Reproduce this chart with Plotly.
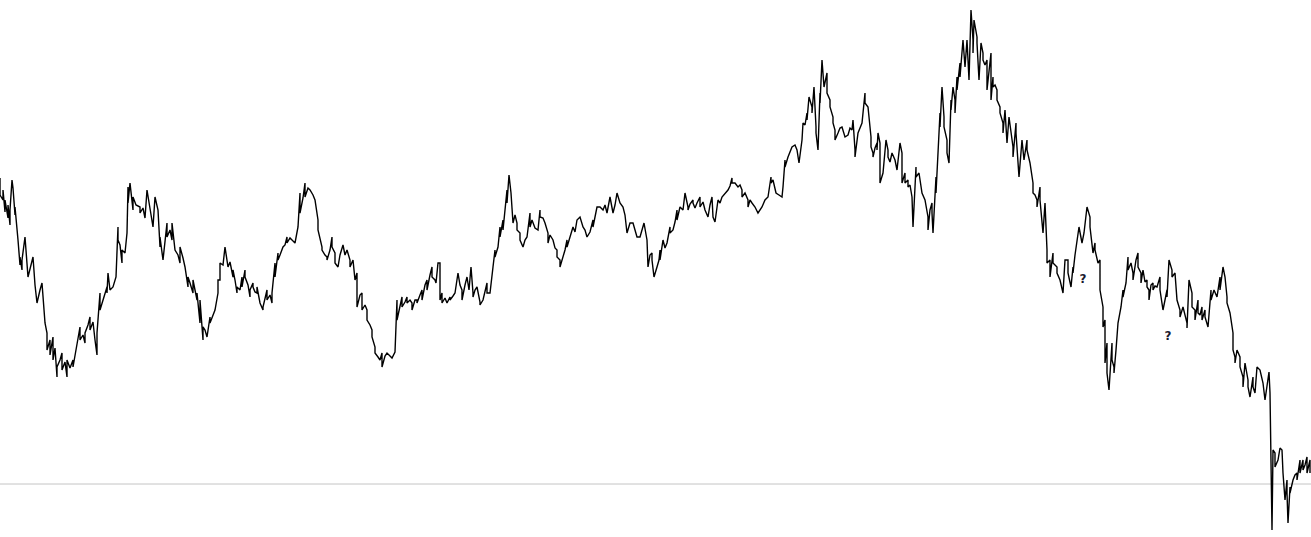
import plotly.graph_objects as go

# (time index, price) samples
seg1 = [(0,822),(0,805),(3,800),(3,810),(5,788),(5,800),(8,782),(8,795),(10,775),(10,790),(12,820),(13,812),(15,785),(15,793),(18,760),(20,735),(20,743),(22,730),(22,740),(25,763),(27,738),(28,723),(31,735),(33,743),(35,715),(37,697),(40,710),(42,717),(45,677),(47,667),(47,650),(50,660),(50,645),(53,663),(53,640),(55,652),(57,623),(57,633),(60,640),(62,647),(62,630),(65,638),(67,623),(67,640),(70,632),(73,640),(73,633),(76,650),(80,673),(80,660),(83,665),(85,657),(85,667),(88,675),(90,683),(90,670),(93,678),(95,660),(97,645),(97,667),(100,707),(100,690),(103,700),(107,713),(107,707),(108,727),(110,710),(113,713),(116,723),(118,773),(118,760),(120,755),(122,737),(122,750),(125,747),(127,767),(128,813),(128,797),(130,817),(133,790),(133,803),(136,795),(140,793),(140,787),(143,792),(145,782),(147,810),(150,790),(153,773),(155,803),(158,790),(160,753),(160,763),(163,740),(165,760),(167,777),(167,763),(170,770),(172,760),(172,777),(175,750),(178,745),(180,737),(180,753),(183,742),(185,733),(188,713),(188,723),(190,717),(193,707),(193,720),(197,700),(197,707),(200,677),(200,700),(203,660),(203,673),(205,670),(207,663),(210,683),(210,677),(213,685),(215,690),(218,707),(218,720)]
seg2 = [(220,720),(220,737),(223,735),(225,753),(228,733),(230,738),(233,723),(233,730),(235,720),(237,707),(237,713),(240,710),(242,723),(242,713),(245,730),(245,723),(248,715),(250,703),(250,710),(253,717),(253,713),(255,708),(257,707),(257,713),(260,697),(263,690),(263,693),(265,702),(267,710),(267,700),(270,705),(272,697),(272,707),(275,737),(275,723),(278,747),(278,740),(280,745),(283,753),(285,755),(287,763),(287,757),(290,762),(292,760),(295,757),(298,773),(300,807),(300,787),(303,802),(305,817),(305,803),(308,812),(310,810),(313,805),(315,800),(318,780),(318,770),(322,753),(322,750),(325,745),(327,743),(327,740),(330,750),(332,763),(332,753),(335,747),(335,737),(338,733),(340,745),(343,755),(345,745),(347,750),(350,740),(350,733),(353,740),(355,720),(357,727),(357,693),(360,705),(362,707),(362,690),(365,695),(367,690),(367,680),(370,675),(372,670),(372,663),(375,653),(375,647),(378,643),(380,640),(382,647),(382,633),(385,644),(387,647),(390,644),(392,642),(395,648),(397,700),(397,680),(400,695),(402,703),(402,693),(405,698),(407,703),(407,697),(410,700),(412,697),(412,690),(415,700),(417,700),(417,697),(420,705),(422,710),(422,700),(425,715),(427,720),(427,710),(430,725),(432,733),(432,723),(435,720),(436,717),(438,737)]
seg3 = [(440,737),(440,700),(442,707),(442,697),(445,702),(447,697),(450,703),(450,700),(453,704),(455,707),(458,727),(460,715),(462,710),(462,700),(465,715),(467,723),(469,710),(471,733),(473,707),(473,703),(475,710),(477,713),(480,698),(480,695),(483,700),(485,710),(487,717),(487,707),(490,707),(493,733),(495,750),(495,743),(498,753),(500,773),(500,763),(503,780),(503,770),(505,790),(507,810),(507,797),(509,825),(511,807),(513,783),(513,777),(515,785),(517,777),(517,770),(520,767),(520,760),(523,753),(525,760),(527,763),(530,787),(530,773),(532,780),(535,772),(538,770),(540,790),(540,783),(543,782),(545,777),(548,767),(548,757),(550,765),(553,760),(555,752),(557,750),(557,743),(560,740),(560,733),(563,743),(565,750),(567,760),(567,753),(570,763),(573,773),(575,768),(577,780),(580,783),(583,773),(585,770),(587,763),(590,768),(593,780),(593,773),(595,785),(597,793),(600,793),(603,790),(605,795),(607,787),(610,803),(613,787),(615,795),(617,807),(620,797),(623,793),(625,785),(627,767),(630,777),(633,777),(635,770),(637,763),(640,763),(642,770),(644,777),(647,760),(648,733),(650,745),(652,747),(652,740),(654,723),(657,733),(659,740)]
seg4 = [(660,750),(660,740),(663,760),(665,752),(667,757),(670,773),(670,767),(673,770),(675,778),(677,790),(677,780),(680,793),(683,790),(685,807),(688,793),(688,790),(690,796),(693,800),(693,797),(695,792),(697,797),(700,803),(700,793),(703,798),(705,790),(708,783),(710,795),(712,803),(713,783),(715,778),(718,800),(720,797),(722,803),(725,807),(728,810),(730,814),(732,822),(732,817),(735,817),(738,813),(740,815),(742,810),(742,803),(745,807),(748,800),(748,793),(750,800),(752,797),(755,793),(758,787),(760,790),(762,793),(765,800),(768,803),(771,823),(771,817),(773,820),(776,807),(779,805),(782,803),(783,813),(785,840),(785,833),(788,843),(790,848),(792,853),(795,855),(797,850),(799,837),(802,860),(803,877),(805,875),(807,887),(807,880),(809,903),(812,893),(812,887),(814,913),(816,873),(816,867),(818,850),(820,907),(820,897),(822,940),(824,913),(827,927),(827,907),(830,900),(830,893),(833,883),(833,877),(835,870),(835,860),(838,867),(840,872),(842,873),(845,863),(848,865),(850,872),(852,870),(853,880),(855,850),(855,843),(858,867),(860,872),(862,877),(865,907),(865,897),(868,893),(871,863),(871,853),(873,847),(873,843),(875,852),(877,857),(877,850),(878,867)]
seg5 = [(880,857),(880,817),(883,827),(886,860),(888,850),(888,843),(890,838),(892,847),(895,840),(897,830),(900,857),(902,847),(902,817),(905,827),(905,817),(908,820),(908,813),(910,815),(912,803),(913,773),(916,833),(916,823),(919,827),(922,807),(925,800),(928,783),(928,770),(930,790),(932,797),(932,787),(933,767),(936,823),(936,807),(938,853),(938,840),(940,887),(940,873),(942,913),(944,883),(944,873),(947,860),(947,847),(949,837),(951,900),(951,890),(953,913),(955,900),(955,887),(957,923),(957,910),(960,937),(960,923),(963,960),(965,940),(965,933),(967,960),(969,920),(971,990),(973,960),(973,947),(974,980),(977,963),(977,957),(979,920),(981,957),(983,947),(983,940),(985,935),(987,940),(987,910),(989,930),(991,947),(991,900),(993,923),(993,913),(995,915),(997,910),(997,900),(1000,893),(1000,887),(1003,877),(1003,867),(1005,890),(1007,857),(1009,883),(1011,865),(1013,853),(1013,843),(1016,877),(1016,867),(1019,823),(1022,860),(1024,840),(1027,860),(1027,850),(1030,837),(1033,817),(1033,807),(1035,805),(1037,800),(1037,793),(1040,813),(1040,800),(1043,767),(1045,797),(1047,750),(1047,737),(1050,740),(1050,723),(1053,747),(1053,737),(1055,735),(1057,733),(1057,727),(1060,720),(1063,707),(1065,740),(1068,740),(1068,727),(1071,713),(1073,733),(1073,727),(1075,745),(1077,757),(1079,773),(1082,757),(1084,767),(1087,793),(1090,783),(1090,773),(1093,747),(1095,757),(1095,750),(1098,737)]
seg6 = [(1100,740),(1100,710),(1103,693),(1103,673),(1105,680),(1105,637),(1107,657),(1107,627),(1109,610),(1112,657),(1112,640),(1114,633),(1114,627),(1116,650),(1118,677),(1121,693),(1123,710),(1123,703),(1126,717),(1128,743),(1128,730),(1131,737),(1133,727),(1133,720),(1136,740),(1138,747),(1138,733),(1141,727),(1141,717),(1143,730),(1145,718),(1147,720),(1147,713),(1149,710),(1149,700),(1151,715),(1153,717),(1153,710),(1155,714),(1157,713),(1160,723),(1160,710),(1163,690),(1165,700),(1167,710),(1167,703),(1169,740),(1172,730),(1172,723),(1175,727),(1177,700),(1180,690),(1180,683),(1183,693),(1185,685),(1187,677),(1187,672),(1189,720),(1192,707),(1192,693),(1195,690),(1195,680),(1198,700),(1198,687),(1200,685),(1202,693),(1202,680),(1205,690),(1205,683),(1208,673),(1211,710),(1211,700),(1214,710),(1217,703),(1220,723),(1220,710),(1223,733),(1225,723),(1227,703),(1227,697),(1230,687),(1233,667),(1233,650),(1235,643),(1235,637),(1237,650),(1240,643),(1240,633),(1243,623),(1243,613),(1245,637),(1248,620),(1248,613),(1250,603),(1253,623),(1253,613),(1255,607),(1257,633),(1260,630),(1263,617),(1265,600),(1267,613),(1269,628),(1270,607),(1271,520),(1272,470),(1273,550),(1275,547),(1275,533),(1278,540),(1280,552),(1282,550),(1283,527),(1285,503),(1285,500),(1287,520),(1287,507),(1288,477),(1290,513),(1290,507),(1293,520),(1295,525),(1297,527),(1297,520),(1300,540),(1300,527),(1303,540),(1303,530),(1305,535),(1307,543),(1307,527),(1310,540),(1310,527)]

reference_level = 516
marker_t = [1083, 1168]
marker_price = [720, 663]
marker_text = ["?", "?"]

samples = seg1 + seg2 + seg3 + seg4 + seg5 + seg6
t = [s[0] for s in samples]
price = [s[1] for s in samples]

fig = go.Figure()
fig.add_trace(go.Scatter(x=t, y=price, mode="lines",
                         line=dict(color="#000000", width=1.4),
                         hoverinfo="skip", showlegend=False))
fig.add_trace(go.Scatter(x=marker_t, y=marker_price, mode="text", text=marker_text,
                         textfont=dict(family="DejaVu Sans", size=12, color="#1a1a2e", weight="bold"),
                         textposition="middle center", showlegend=False, hoverinfo="skip"))
fig.add_shape(type="line", xref="paper", x0=0, x1=1, yref="y",
              y0=reference_level, y1=reference_level,
              line=dict(color="#c4c4c4", width=1), layer="below")

fig.update_layout(width=1311, height=537, margin=dict(l=0, r=0, t=0, b=0),
                  paper_bgcolor="white", plot_bgcolor="white", showlegend=False)
fig.update_xaxes(visible=False, range=[0, 1311])
fig.update_yaxes(visible=False, range=[463, 1000])
fig.write_html("out.html", config={"displayModeBar": False},
               post_script="document.body.style.margin='0';document.body.style.overflow='hidden';")
